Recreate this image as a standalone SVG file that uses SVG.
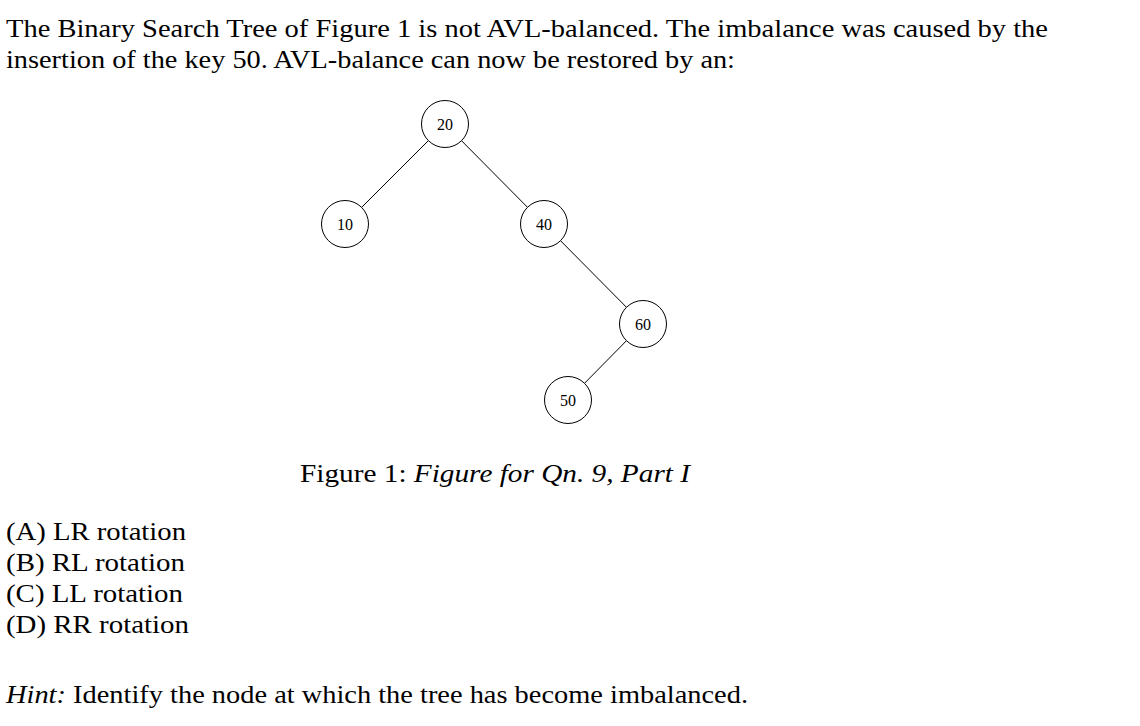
<svg xmlns="http://www.w3.org/2000/svg" width="1140" height="726" viewBox="0 0 1140 726">
<style>
.t{font-family:"Liberation Serif","DejaVu Serif",serif;font-size:25px;fill:#000}
.i{font-style:italic}
.n circle{fill:#fff;stroke:#000;stroke-width:1}
.n text{font-family:"Liberation Serif","DejaVu Serif",serif;font-size:16px;text-anchor:middle;fill:#000}
#edges line{stroke:#000;stroke-width:1}
</style>
<rect width="1140" height="726" fill="#fff"/>
<text class="t" x="6" y="37" textLength="1042" lengthAdjust="spacingAndGlyphs">The Binary Search Tree of Figure 1 is not AVL-balanced. The imbalance was caused by the</text>
<text class="t" x="6" y="68" textLength="729" lengthAdjust="spacingAndGlyphs">insertion of the key 50. AVL-balance can now be restored by an:</text>
<g id="edges">
<line x1="428.4" y1="140.6" x2="361.6" y2="207.4"/>
<line x1="461.5" y1="140.7" x2="527.5" y2="207.3"/>
<line x1="560.5" y1="240.7" x2="626.5" y2="307.3"/>
<line x1="626.5" y1="340.7" x2="584.5" y2="383.3"/>
</g>
<g id="n20" class="n"><circle cx="445" cy="124" r="23.5"/><text x="445" y="129.5">20</text></g>
<g id="n10" class="n"><circle cx="345" cy="224" r="23.5"/><text x="345" y="229.5">10</text></g>
<g id="n40" class="n"><circle cx="544" cy="224" r="23.5"/><text x="544" y="229.5">40</text></g>
<g id="n60" class="n"><circle cx="643" cy="324" r="23.5"/><text x="643" y="329.5">60</text></g>
<g id="n50" class="n"><circle cx="568" cy="400" r="23.5"/><text x="568" y="405.5">50</text></g>
<text class="t" x="300" y="482" textLength="390" lengthAdjust="spacingAndGlyphs">Figure 1: <tspan class="i">Figure for Qn. 9, Part I</tspan></text>
<text class="t" x="6" y="540" textLength="180" lengthAdjust="spacingAndGlyphs">(A) LR rotation</text>
<text class="t" x="6" y="571" textLength="179" lengthAdjust="spacingAndGlyphs">(B) RL rotation</text>
<text class="t" x="6" y="602" textLength="177" lengthAdjust="spacingAndGlyphs">(C) LL rotation</text>
<text class="t" x="6" y="633" textLength="183" lengthAdjust="spacingAndGlyphs">(D) RR rotation</text>
<text class="t" x="6" y="703" textLength="742" lengthAdjust="spacingAndGlyphs"><tspan class="i">Hint:</tspan> Identify the node at which the tree has become imbalanced.</text>
</svg>
